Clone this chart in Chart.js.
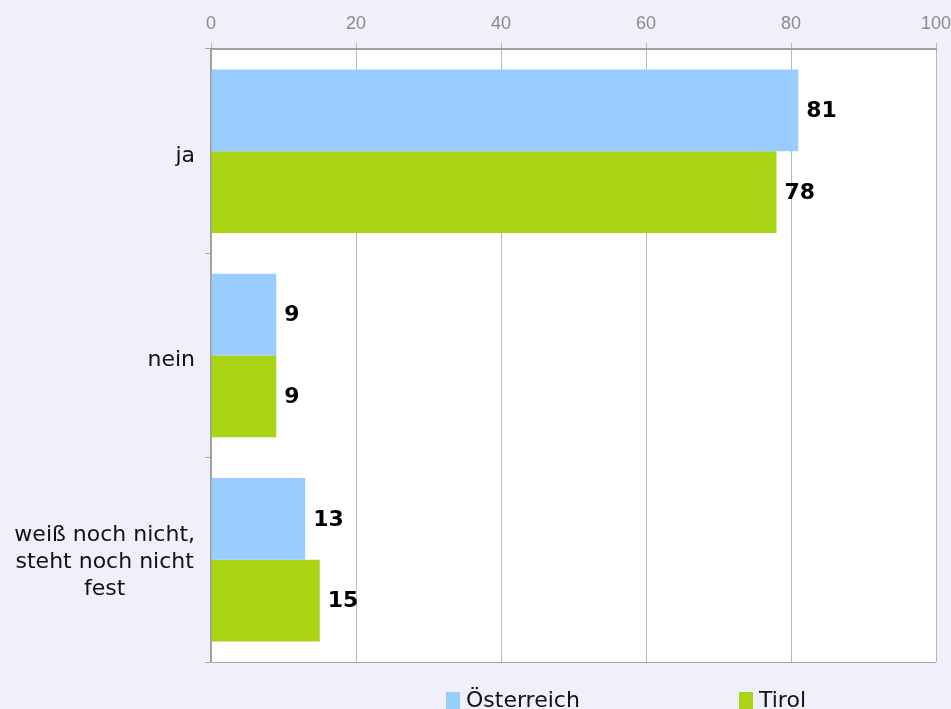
<!DOCTYPE html>
<html>
<head>
<meta charset="utf-8">
<script src="https://cdn.jsdelivr.net/npm/chart.js@4.4.0/dist/chart.umd.min.js"></script>
<style>
  html, body { margin: 0; padding: 0; background: #f0f0fc; }
  #wrap { width: 951px; height: 709px; }
</style>
</head>
<body>
<div id="wrap"><canvas id="myChart" width="951" height="709"></canvas></div>
<script>
// answers and values (percent)
var categories = ["ja", "nein", ["weiß noch nicht,", "steht noch nicht", "fest"]];
var seriesNames = ["Österreich", "Tirol"];
var oesterreich = [81, 9, 13];
var tirol = [78, 9, 15];
var xTicks = [0, 20, 40, 60, 80, 100];

var colors = ['#99ccff', '#a8d414'];

document.addEventListener("DOMContentLoaded", function () {
  var ctx = document.getElementById("myChart").getContext("2d");

  // white plot area + bottom border
  var plotArea = {
    id: 'plotArea',
    beforeDraw: function (chart) {
      var a = chart.chartArea, c = chart.ctx;
      c.save();
      c.fillStyle = '#ffffff';
      c.fillRect(a.left, a.top, a.right - a.left, a.bottom - a.top);
      c.restore();
    },
    afterDraw: function (chart) {
      var a = chart.chartArea, c = chart.ctx;
      c.save();
      c.strokeStyle = '#a8a8a8';
      c.lineWidth = 1;
      c.beginPath();
      c.moveTo(a.left - 6, a.bottom + 0.5);
      c.lineTo(a.right, a.bottom + 0.5);
      c.stroke();
      c.restore();
    }
  };

  // category labels: block right aligned, lines centred inside the block
  var categoryLabels = {
    id: 'categoryLabels',
    afterDraw: function (chart) {
      var c = chart.ctx, y = chart.scales.y;
      var right = chart.chartArea.left - 16, lh = 27;
      c.save();
      c.font = '22px "DejaVu Sans"';
      c.fillStyle = '#111111';
      c.textAlign = 'center';
      c.textBaseline = 'middle';
      chart.data.labels.forEach(function (lab, i) {
        var lines = Array.isArray(lab) ? lab : [lab];
        var w = Math.max.apply(null, lines.map(function (s) { return c.measureText(s).width; }));
        var cx = right - w / 2;
        var cy = y.getPixelForTick(i) + (lines.length === 1 ? 5 : 2);
        lines.forEach(function (s, k) {
          c.fillText(s, cx, cy + (k - (lines.length - 1) / 2) * lh);
        });
      });
      c.restore();
    }
  };

  // value labels right of the bars
  var valueLabels = {
    id: 'valueLabels',
    afterDatasetsDraw: function (chart) {
      var c = chart.ctx;
      c.save();
      c.font = 'bold 22px "DejaVu Sans"';
      c.fillStyle = '#000000';
      c.textAlign = 'left';
      c.textBaseline = 'middle';
      chart.data.datasets.forEach(function (ds, i) {
        chart.getDatasetMeta(i).data.forEach(function (bar, j) {
          c.fillText(ds.data[j], bar.x + 8, bar.y + 1);
        });
      });
      c.restore();
    }
  };

  // legend at the bottom
  var bottomLegend = {
    id: 'bottomLegend',
    afterDraw: function (chart) {
      var c = chart.ctx;
      var xs = [446, 739];
      c.save();
      c.font = '22px "DejaVu Sans"';
      c.textBaseline = 'alphabetic';
      c.textAlign = 'left';
      chart.data.datasets.forEach(function (ds, i) {
        c.fillStyle = ds.backgroundColor;
        c.fillRect(xs[i], 692, 14, 17);
        c.fillStyle = '#111111';
        c.fillText(ds.label, xs[i] + 20, 707);
      });
      c.restore();
    }
  };

  var data = {
    labels: categories,
    datasets: [{
      label: seriesNames[0],
      data: oesterreich,
      backgroundColor: colors[0],
      categoryPercentage: 0.8,
      barPercentage: 1.0
    }, {
      label: seriesNames[1],
      data: tirol,
      backgroundColor: colors[1],
      categoryPercentage: 0.8,
      barPercentage: 1.0
    }]
  };

  var options = {
    indexAxis: 'y',
    responsive: false,
    animation: false,
    layout: { padding: { left: 0, right: 0, top: 0, bottom: 47 } },
    plugins: {
      legend: { display: false },
      tooltip: { enabled: false }
    },
    scales: {
      x: {
        position: 'top',
        min: 0,
        max: 100,
        afterBuildTicks: function (scale) {
          scale.ticks = xTicks.map(function (v) { return { value: v }; });
        },
        afterFit: function (scale) {
          scale.height = 49;
          scale.paddingRight = 15;
        },
        grid: {
          color: '#b8b8b8',
          lineWidth: 1,
          tickLength: 6,
          drawTicks: true
        },
        border: { color: '#a0a0a0', width: 2 },
        ticks: {
          color: '#8a8a8a',
          font: { family: '"Liberation Sans", Arial, sans-serif', size: 18 },
          padding: 8,
          maxRotation: 0
        }
      },
      y: {
        offset: true,
        afterFit: function (scale) { scale.width = 211; },
        grid: {
          offset: true,
          drawOnChartArea: false,
          tickLength: 6,
          color: '#a8a8a8'
        },
        border: { color: '#a0a0a0', width: 2 },
        ticks: {
          display: false
        }
      }
    }
  };

  var myChart = new Chart(ctx, {
    type: 'bar',
    data: data,
    options: options,
    plugins: [plotArea, categoryLabels, valueLabels, bottomLegend]
  });
});
</script>
</body>
</html>
